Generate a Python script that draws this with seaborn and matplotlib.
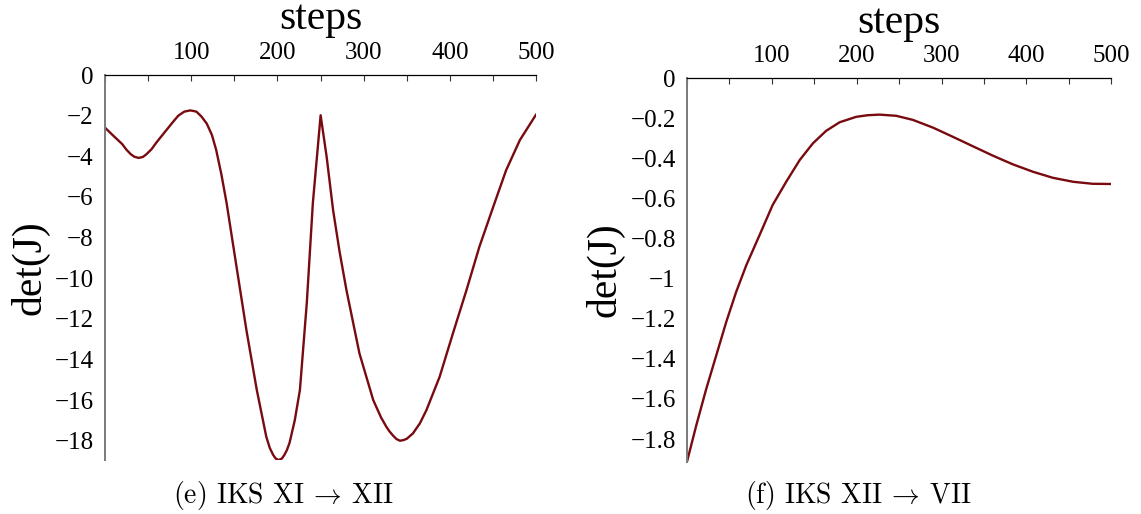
import numpy as np
import pandas as pd
import matplotlib
matplotlib.use("Agg")
import matplotlib.pyplot as plt
import matplotlib.ticker as mticker
import seaborn as sns

# values
steps_e = [0, 10, 20, 25, 30, 34, 39, 44, 48, 54, 60, 71, 80, 85, 92, 99, 106, 112,
           118, 124, 129, 135, 141, 152, 164, 176, 187, 191, 195, 198, 201.5, 205,
           208, 211, 214, 220, 226, 234, 241, 250, 257, 264.5, 272, 280, 295, 311,
           320, 326, 330, 334, 338, 342, 346, 350, 357, 365, 372.6, 388, 403.5,
           419, 434, 450, 465, 481, 500]
det_e = [-2.59, -3.0, -3.4, -3.68, -3.9, -4.02, -4.08, -4.03, -3.9, -3.65, -3.3,
         -2.72, -2.25, -2.0, -1.8, -1.74, -1.8, -2.05, -2.39, -2.95, -3.7, -4.9,
         -6.3, -9.3, -12.56, -15.5, -17.8, -18.35, -18.7, -18.88, -18.95, -18.88,
         -18.7, -18.45, -18.1, -17.0, -15.5, -11.2, -6.3, -1.98, -4.03, -6.66,
         -8.7, -10.6, -13.7, -16.0, -16.85, -17.3, -17.55, -17.75, -17.92, -18.0,
         -17.97, -17.9, -17.64, -17.15, -16.5, -14.85, -12.7, -10.6, -8.46, -6.5,
         -4.69, -3.2, -1.93]

steps_f = [0, 11, 22.8, 34.6, 46.3, 58, 70, 85.6, 101, 117, 133, 148.5, 164, 180,
           199.5, 213, 227, 246.7, 266, 290, 313, 337, 360.6, 384, 407.7, 431, 455,
           478, 500]
det_f = [-1.915, -1.733, -1.55, -1.383, -1.217, -1.067, -0.933, -0.783, -0.633,
         -0.517, -0.408, -0.325, -0.263, -0.22, -0.193, -0.185, -0.182, -0.188,
         -0.208, -0.247, -0.292, -0.34, -0.387, -0.43, -0.467, -0.497, -0.517,
         -0.527, -0.528]

x_ticks = [100, 200, 300, 400, 500]
y_ticks_e = [0, -2, -4, -6, -8, -10, -12, -14, -16, -18]
y_ticks_f = [0, -0.2, -0.4, -0.6, -0.8, -1, -1.2, -1.4, -1.6, -1.8]
captions = ["(e) IKS XI $\\!\\rightarrow\\!$ XII", "(f) IKS XII $\\!\\rightarrow\\!$ VII"]

sns.set_style("white")
plt.rcParams["font.family"] = ["Liberation Serif", "DejaVu Serif"]
plt.rcParams["mathtext.fontset"] = "cm"
plt.rcParams["text.color"] = "black"
plt.rcParams["axes.labelcolor"] = "black"
plt.rcParams["xtick.color"] = "black"
plt.rcParams["ytick.color"] = "black"

line_color = "#780a10"
fig = plt.figure(figsize=(11.41, 5.14), dpi=100)
ax_e = fig.add_axes([0.092, 0.105, 0.378, 0.749])
ax_f = fig.add_axes([0.602, 0.101, 0.372, 0.747])


def fmt(v, pos):
    s = f"{v:g}"
    return s.replace("-", "\u2212")


panels = [
    (ax_e, steps_e, det_e, y_ticks_e, 1.0, captions[0], 283),
    (ax_f, steps_f, det_f, y_ticks_f, 0.1, captions[1], 858),
]
for ax, xs, ys, yt, ymin_step, cap, cx in panels:
    df = pd.DataFrame({"steps": xs, "det": ys})
    sns.lineplot(data=df, x="steps", y="det", ax=ax, color=line_color,
                 linewidth=1.7, sort=False)
    ax.set_xlim(0, 500)
    ax.set_ylim(min(ys), 0)
    ax.xaxis.tick_top()
    ax.xaxis.set_label_position("top")
    ax.set_xticks(x_ticks)
    ax.xaxis.set_minor_locator(mticker.MultipleLocator(50))
    ax.set_yticks(yt)
    ax.yaxis.set_minor_locator(mticker.MultipleLocator(ymin_step))
    ax.yaxis.set_major_formatter(mticker.FuncFormatter(fmt))
    ax.tick_params(axis="both", which="both", direction="in", labelsize=18,
                   length=4, width=0.8, color="#333333")
    ax.tick_params(axis="x", pad=8)
    ax.tick_params(axis="y", pad=8)
    for s in ["bottom", "right"]:
        ax.spines[s].set_visible(False)
    ax.spines["top"].set_color("black")
    ax.spines["top"].set_linewidth(0.9)
    ax.spines["left"].set_color("#7a7a7a")
    ax.spines["left"].set_linewidth(1.4)
    ax.set_xlabel("steps", fontsize=30, labelpad=9)
    ax.set_ylabel("det(J)", fontsize=30, labelpad=4)
    fig.text(cx / 1141, 1 - 495 / 514, cap, ha="center", va="center",
             fontsize=20, family="cmr10")

fig.savefig("out.png", dpi=100)
